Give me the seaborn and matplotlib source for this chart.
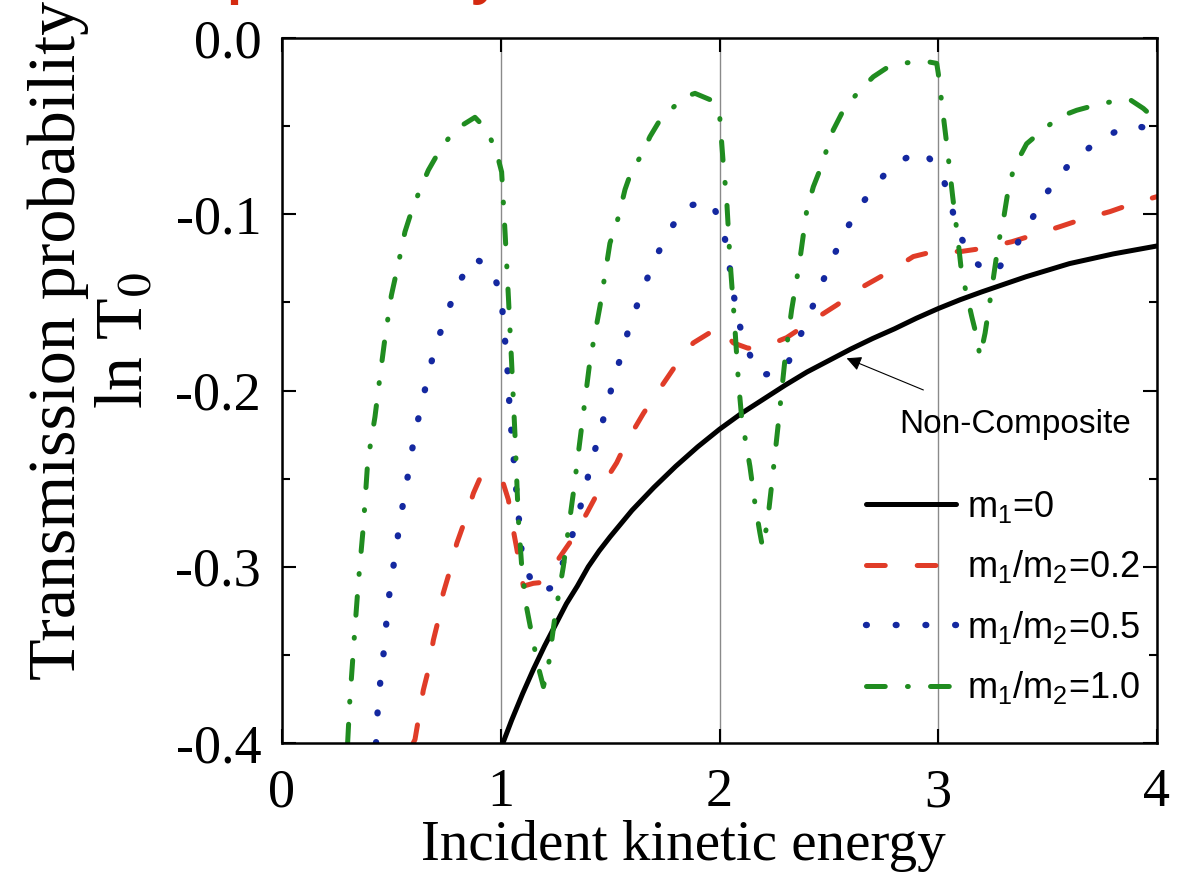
import matplotlib
matplotlib.use("Agg")
import matplotlib.pyplot as plt
from matplotlib.ticker import FixedLocator, MultipleLocator, FormatStrFormatter
import numpy as np
import pandas as pd
import seaborn as sns

# ---- data: ln T0 versus incident kinetic energy ----
energy_m0 = [1.01, 1.05, 1.10, 1.15, 1.20, 1.25, 1.30, 1.35, 1.40, 1.45, 1.50,
             1.60, 1.70, 1.80, 1.90, 2.00, 2.10, 2.20, 2.30, 2.40, 2.50, 2.60,
             2.70, 2.80, 2.90, 3.00, 3.10, 3.20, 3.40, 3.60, 3.80, 4.00]
lnT_m0 = [-0.400, -0.387, -0.372, -0.358, -0.345, -0.333, -0.321, -0.311, -0.300,
          -0.291, -0.283, -0.268, -0.255, -0.243, -0.232, -0.222, -0.213, -0.205,
          -0.197, -0.1895, -0.183, -0.1765, -0.1705, -0.165, -0.159, -0.1535,
          -0.1485, -0.144, -0.1355, -0.128, -0.1225, -0.118]

energy_r02 = [0.60, 0.608, 0.623, 0.646, 0.669, 0.692, 0.715, 0.737, 0.768, 0.799,
              0.837, 0.875, 0.905, 0.928, 0.97, 1.004, 1.035, 1.057, 1.073, 1.103,
              1.149, 1.18, 1.256, 1.324, 1.393, 1.446, 1.530, 1.576, 1.652, 1.713,
              1.804, 1.880, 2.0, 2.063, 2.13, 2.208, 2.307, 2.429, 2.536, 2.657,
              2.764, 2.886, 3.0, 3.1, 3.206, 3.336, 3.435, 3.557, 3.656, 3.785,
              3.884, 4.0]
lnT_r02 = [-0.400, -0.398, -0.387, -0.370, -0.3586, -0.3416, -0.330, -0.315, -0.302,
           -0.2867, -0.2735, -0.2583, -0.2498, -0.248, -0.247, -0.2498, -0.262,
           -0.279, -0.2896, -0.311, -0.3094, -0.309, -0.297, -0.2848, -0.2697,
           -0.2574, -0.241, -0.229, -0.213, -0.2016, -0.185, -0.173, -0.1638,
           -0.173, -0.176, -0.175, -0.170, -0.160, -0.1515, -0.141, -0.1335,
           -0.124, -0.1205, -0.1212, -0.1193, -0.1156, -0.1118, -0.107, -0.1029,
           -0.0985, -0.0942, -0.090]

energy_r05 = [0.43, 0.44, 0.456, 0.471, 0.481, 0.498, 0.520, 0.539, 0.562, 0.585,
              0.607, 0.638, 0.669, 0.701, 0.750, 0.798, 0.872, 0.955, 1.004, 1.012,
              1.027, 1.035, 1.042, 1.054, 1.064, 1.076, 1.088, 1.099, 1.164, 1.233,
              1.294, 1.335, 1.373, 1.405, 1.441, 1.477, 1.512, 1.553, 1.592, 1.640,
              1.693, 1.755, 1.842, 1.959, 2.015, 2.040, 2.080, 2.121, 2.181, 2.295,
              2.356, 2.414, 2.467, 2.524, 2.592, 2.676, 2.787, 2.924, 3.014, 3.054,
              3.092, 3.155, 3.248, 3.340, 3.419, 3.495, 3.602, 3.739, 3.874, 4.0]
lnT_r05 = [-0.400, -0.375, -0.3586, -0.3416, -0.325, -0.3085, -0.2915, -0.274,
           -0.2584, -0.241, -0.2247, -0.208, -0.191, -0.175, -0.158, -0.1415,
           -0.1246, -0.130, -0.147, -0.163, -0.180, -0.197, -0.214, -0.230, -0.247,
           -0.263, -0.280, -0.297, -0.314, -0.312, -0.295, -0.279, -0.262, -0.2457,
           -0.229, -0.2126, -0.196, -0.179, -0.162, -0.146, -0.129, -0.1125,
           -0.0957, -0.0924, -0.107, -0.1245, -0.158, -0.1748, -0.1914, -0.1893,
           -0.1727, -0.156, -0.1396, -0.123, -0.106, -0.0895, -0.0724, -0.0635,
           -0.0758, -0.093, -0.110, -0.126, -0.1345, -0.121, -0.1046, -0.088,
           -0.071, -0.0575, -0.0494, -0.052]

energy_r10 = [0.30, 0.31, 0.334, 0.349, 0.372, 0.392, 0.425, 0.448, 0.471, 0.50,
              0.532, 0.562, 0.593, 0.631, 0.669, 0.722, 0.791, 0.882, 0.936, 0.981,
              1.004, 1.02, 1.035, 1.05, 1.065, 1.08, 1.096, 1.118, 1.149, 1.172,
              1.195, 1.217, 1.248, 1.286, 1.332, 1.37, 1.408, 1.454, 1.499, 1.537,
              1.568, 1.599, 1.644, 1.682, 1.728, 1.774, 1.842, 1.888, 1.957, 2.0,
              2.017, 2.033, 2.048, 2.068, 2.086, 2.101, 2.121, 2.139, 2.162, 2.185,
              2.197, 2.219, 2.239, 2.269, 2.299, 2.330, 2.365, 2.399, 2.429, 2.459,
              2.520, 2.566, 2.642, 2.703, 2.764, 2.833, 2.932, 2.993, 3.0, 3.02,
              3.042, 3.066, 3.092, 3.107, 3.133, 3.153, 3.176, 3.191, 3.214, 3.244,
              3.275, 3.298, 3.320, 3.343, 3.374, 3.404, 3.480, 3.557, 3.633, 3.739,
              3.80, 3.877, 3.938, 4.0]
lnT_r10 = [-0.400, -0.376, -0.334, -0.309, -0.277, -0.240, -0.215, -0.192, -0.170,
           -0.146, -0.128, -0.110, -0.098, -0.086, -0.075, -0.0635, -0.052, -0.045,
           -0.052, -0.065, -0.076, -0.111, -0.147, -0.185, -0.225, -0.272, -0.300,
           -0.323, -0.343, -0.357, -0.368, -0.357, -0.328, -0.300, -0.258, -0.2205,
           -0.183, -0.152, -0.1165, -0.102, -0.086, -0.075, -0.0664, -0.056,
           -0.0465, -0.041, -0.0333, -0.0314, -0.035, -0.043, -0.071, -0.092,
           -0.126, -0.160, -0.194, -0.215, -0.230, -0.243, -0.264, -0.281, -0.289,
           -0.275, -0.253, -0.2186, -0.1827, -0.154, -0.128, -0.0976, -0.0844,
           -0.0749, -0.0522, -0.041, -0.0295, -0.022, -0.017, -0.0144, -0.013,
           -0.0144, -0.020, -0.041, -0.0635, -0.090, -0.1165, -0.1335, -0.147,
           -0.158, -0.1695, -0.181, -0.1675, -0.143, -0.1165, -0.103, -0.086,
           -0.075, -0.067, -0.060, -0.052, -0.0446, -0.041, -0.0374, -0.036,
           -0.035, -0.040, -0.047]

series_labels = [
    r"m$\mathregular{_1}$=0",
    r"m$\mathregular{_1}$/m$\mathregular{_2}$=0.2",
    r"m$\mathregular{_1}$/m$\mathregular{_2}$=0.5",
    r"m$\mathregular{_1}$/m$\mathregular{_2}$=1.0",
]
x_ticks = [0, 1, 2, 3, 4]
y_ticks = [-0.4, -0.3, -0.2, -0.1, 0.0]

frames = []
for lab, xs, ys in zip(series_labels,
                       [energy_m0, energy_r02, energy_r05, energy_r10],
                       [lnT_m0, lnT_r02, lnT_r05, lnT_r10]):
    frames.append(pd.DataFrame({"energy": xs, "lnT": ys, "ratio": lab}))
df = pd.concat(frames, ignore_index=True)

# ---- style ----
sns.set_theme(style="ticks")
plt.rcParams.update({
    "font.family": ["Liberation Serif", "DejaVu Serif"],
    "mathtext.fontset": "stix",
    "axes.unicode_minus": False,
    "lines.scale_dashes": False,
    "axes.linewidth": 1.8,
    "axes.edgecolor": "black",
    "text.color": "black",
    "axes.labelcolor": "black",
    "xtick.color": "black",
    "ytick.color": "black",
})

palette = dict(zip(series_labels, ["#000000", "#e03c28", "#1428a0", "#208c20"]))
dashes = dict(zip(series_labels, [
    "",
    (13.5, 23.0),
    (0.6, 20.8),
    (13.5, 16.0, 0.6, 16.0),
]))

fig = plt.figure(figsize=(11.8, 8.77), dpi=100)
ax = fig.add_axes([282 / 1180, 1 - 743 / 877, 875 / 1180, 705 / 877])

sns.lineplot(data=df, x="energy", y="lnT", hue="ratio", style="ratio",
             palette=palette, dashes=dashes, sort=False, estimator=None,
             legend=False, lw=3.6, dash_capstyle="round", ax=ax)
lines = list(ax.get_lines())[:4]
lines[2].set_linewidth(4.6)

ax.set_xlim(0, 4)
ax.set_ylim(-0.4, 0.0)
ax.xaxis.set_major_locator(FixedLocator(x_ticks))
ax.yaxis.set_major_locator(FixedLocator(y_ticks))
ax.yaxis.set_minor_locator(MultipleLocator(0.05))
ax.yaxis.set_major_formatter(FormatStrFormatter("%.1f"))
ax.xaxis.set_major_formatter(FormatStrFormatter("%d"))

ax.grid(axis="x", color="#8a8a8a", lw=1.0)
ax.set_axisbelow(True)

ax.tick_params(which="major", direction="in", length=10, width=1.5,
               top=True, right=True, labelsize=39, colors="black")
ax.tick_params(axis="x", which="major", pad=18)
ax.tick_params(axis="y", which="major", pad=15)
ax.tick_params(which="minor", direction="in", length=6, width=1.5,
               left=True, right=True)

for sp in ax.spines.values():
    sp.set_visible(True)
    sp.set_linewidth(1.8)
    sp.set_color("black")

ax.set_xlabel("Incident kinetic energy", fontsize=41, va="baseline",
              color="black")
ax.xaxis.set_label_coords((683.5 - 282) / 875, -(860 - 743) / 705)
ax.set_ylabel("Transmission probability\nln T$_0$", fontsize=49,
              ha="center", va="center", multialignment="center",
              linespacing=1.15, color="black")
ax.yaxis.set_label_coords((92 - 282) / 875, 1 - (340 - 38) / 705)

# legend
ax.legend(lines, series_labels, loc="upper left",
          bbox_to_anchor=((866 - 282) / 875, 1 - (489 - 38) / 705),
          frameon=False, handlelength=2.49, handletextpad=0.3,
          labelspacing=0.65, borderpad=0, borderaxespad=0,
          prop={"family": "Liberation Sans", "size": 26})

# annotation for the m1 = 0 curve
ax.annotate("", xy=(2.581, -0.1817), xytext=(2.932, -0.1997),
            arrowprops=dict(arrowstyle="-|>", color="black", lw=0.8,
                            mutation_scale=22, shrinkA=0, shrinkB=0))
ax.text((899 - 282) / 875, 1 - (425 - 38) / 705, "Non-Composite",
        transform=ax.transAxes, ha="left", va="center",
        fontsize=24, family="Liberation Sans")

# heading above the figure
fig.text(226 / 1180, 1 + 7 / 877, "probability", color="#d42a10",
         fontsize=36, fontweight="bold", family=["Open Sans", "DejaVu Sans"],
         ha="left", va="baseline")

fig.savefig("out.png", dpi=100)
